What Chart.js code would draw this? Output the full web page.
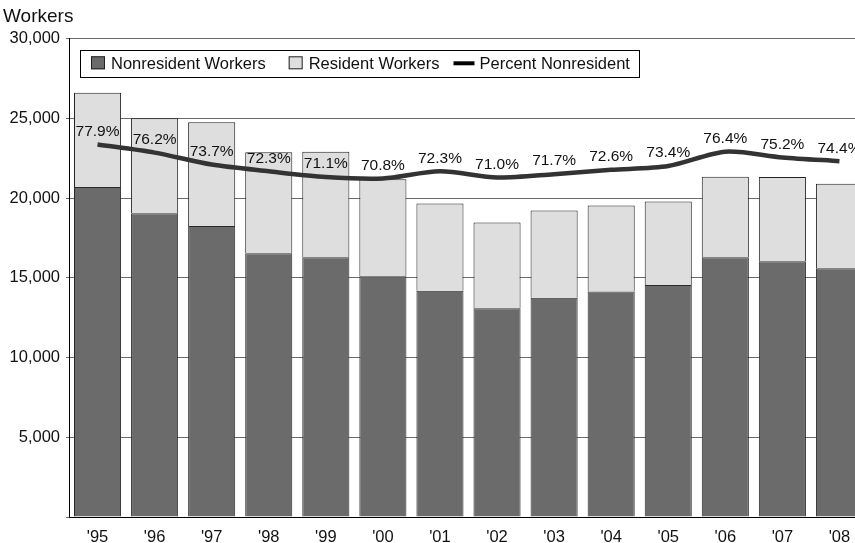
<!DOCTYPE html>
<html>
<head>
<meta charset="utf-8">
<script src="https://cdn.jsdelivr.net/npm/chart.js@4/dist/chart.umd.min.js"></script>
<style>
  html, body { margin: 0; padding: 0; background: #fff; overflow: hidden; }
  #wrap { width: 855px; height: 543px; overflow: hidden; }
</style>
</head>
<body>
<div id="wrap"><canvas id="grafica" width="868" height="543"></canvas></div>
<script>
// ── DATOS ──────────────────────────────────────────────
const years = ["'95", "'96", "'97", "'98", "'99", "'00", "'01", "'02", "'03", "'04", "'05", "'06", "'07", "'08"];
const nonresidentWorkers = [20700, 19050, 18250, 16550, 16300, 15100, 14200, 13100, 13750, 14150, 14550, 16300, 16050, 15600];
const residentWorkers    = [5920, 5970, 6520, 6340, 6620, 6090, 5470, 5380, 5480, 5390, 5240, 5050, 5280, 5300];
const percentNonresident = [77.9, 76.2, 73.7, 72.3, 71.1, 70.8, 72.3, 71.0, 71.7, 72.6, 73.4, 76.4, 75.2, 74.4];
const yTicks = [0, 5000, 10000, 15000, 20000, 25000, 30000];

const FONT = "'Liberation Sans', Arial, sans-serif";

// ── ETIQUETAS DEL PORCENTAJE ───────────────────────────
const etiquetasLinea = {
    id: 'etiquetasLinea',
    afterDatasetsDraw(chart) {
        const meta = chart.getDatasetMeta(2);
        const ctx = chart.ctx;
        ctx.save();
        ctx.font = '15.5px ' + FONT;
        ctx.fillStyle = '#111';
        ctx.textAlign = 'center';
        ctx.textBaseline = 'middle';
        meta.data.forEach((pt, i) => {
            ctx.fillText(percentNonresident[i].toFixed(1) + '%', pt.x, pt.y - 13);
        });
        ctx.restore();
    }
};

// ── LEYENDA CON MARCO ──────────────────────────────────
const leyendaCaja = {
    id: 'leyendaCaja',
    afterDraw(chart) {
        const ctx = chart.ctx;
        const ds = chart.data.datasets;
        const x0 = chart.chartArea.left + 11;
        const top = chart.chartArea.top + 11;
        const h = 27;
        ctx.save();
        ctx.font = '16.5px ' + FONT;
        ctx.textBaseline = 'middle';
        ctx.textAlign = 'left';
        const midY = top + h / 2;
        let x = x0 + 11;
        ds.forEach((d, i) => {
            if (d.type === 'line') {
                ctx.strokeStyle = '#000';
                ctx.lineWidth = 4;
                ctx.beginPath();
                ctx.moveTo(x, midY);
                ctx.lineTo(x + 21, midY);
                ctx.stroke();
                x += 26;
            } else {
                ctx.fillStyle = d.backgroundColor;
                ctx.fillRect(x, midY - 7, 14, 13);
                ctx.strokeStyle = '#222';
                ctx.lineWidth = 1;
                ctx.strokeRect(x + 0.5, midY - 6.5, 13, 12);
                x += 20;
            }
            ctx.fillStyle = '#111';
            ctx.fillText(d.label, x, midY + 1);
            x += ctx.measureText(d.label).width + (i === 0 ? 23 : 14);
        });
        const w = x - 14 + 9 - x0;
        ctx.strokeStyle = '#000';
        ctx.lineWidth = 1;
        ctx.strokeRect(Math.round(x0) + 0.5, Math.round(top) + 0.5, Math.round(w), h);
        ctx.restore();
    }
};

new Chart(document.getElementById('grafica'), {
    data: {
        labels: years,
        datasets: [
            {
                type: 'bar',
                label: 'Nonresident Workers',
                data: nonresidentWorkers,
                backgroundColor: '#6b6b6b',
                borderColor: '#2a2a2a',
                borderWidth: 1,
                barPercentage: 0.825,
                categoryPercentage: 1,
                order: 2
            },
            {
                type: 'bar',
                label: 'Resident Workers',
                data: residentWorkers,
                backgroundColor: '#dedede',
                borderColor: '#222',
                borderWidth: 1,
                barPercentage: 0.825,
                categoryPercentage: 1,
                order: 2
            },
            {
                type: 'line',
                label: 'Percent Nonresident',
                data: percentNonresident,
                yAxisID: 'y1',
                borderColor: '#333',
                borderWidth: 4.5,
                pointRadius: 0,
                tension: 0.28,
                fill: false,
                order: 1
            }
        ]
    },
    options: {
        responsive: false,
        animation: false,
        layout: { padding: { left: 3, right: 0, top: 0, bottom: 0 } },
        plugins: {
            legend: { display: false },
            tooltip: { enabled: false },
            title: {
                display: true,
                text: 'Workers',
                align: 'start',
                color: '#111',
                font: { family: FONT, size: 19, weight: 'normal' },
                padding: { top: 5, bottom: 11 }
            }
        },
        scales: {
            x: {
                stacked: true,
                grid: { display: false, drawTicks: false },
                border: { display: true, color: '#000', width: 1 },
                ticks: { color: '#111', font: { family: FONT, size: 16.5 }, padding: 11 },
                afterFit: s => { s.height = 26; }
            },
            y: {
                stacked: true,
                min: 0,
                max: 30000,
                afterBuildTicks: s => { s.ticks = yTicks.map(v => ({ value: v })); },
                grid: { color: '#6a6a6a', lineWidth: 1, tickLength: 3 },
                border: { display: true, color: '#000', width: 1 },
                ticks: {
                    color: '#111',
                    padding: 6,
                    font: { family: FONT, size: 16.5 },
                    callback: v => v === 0 ? '' : v.toLocaleString('en-US')
                },
                afterFit: s => { s.width = 66; }
            },
            y1: {
                display: false,
                min: 0,
                max: 100
            }
        }
    },
    plugins: [etiquetasLinea, leyendaCaja]
});
</script>
</body>
</html>
